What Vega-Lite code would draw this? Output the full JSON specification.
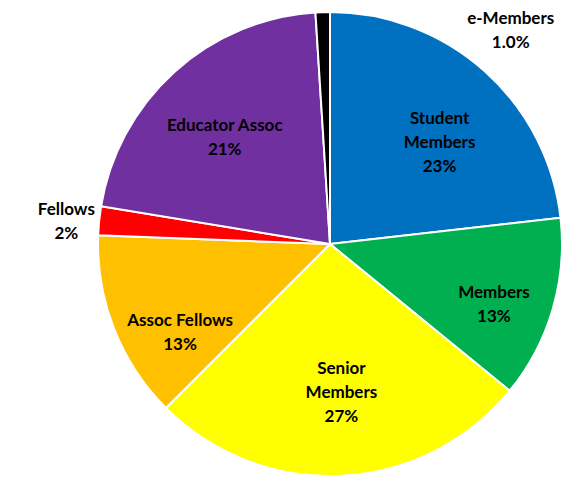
{
  "$schema": "https://vega.github.io/schema/vega-lite/v6.json",
  "width": 476,
  "height": 478,
  "autosize": {"type": "none"},
  "padding": {"left": 92, "right": 0, "top": 5, "bottom": 0},
  "background": "white",
  "config": {"view": {"stroke": null}},
  "data": {
    "values": [
      {"category": "Student Members", "pct": 23.2, "order": 1, "label": "Student\nMembers\n23%"},
      {"category": "Members", "pct": 12.7, "order": 2, "label": "Members\n13%"},
      {"category": "Senior Members", "pct": 26.6, "order": 3, "label": "Senior\nMembers\n27%"},
      {"category": "Assoc Fellows", "pct": 13.1, "order": 4, "label": "Assoc Fellows\n13%"},
      {"category": "Fellows", "pct": 2.0, "order": 5, "label": "Fellows\n2%"},
      {"category": "Educator Assoc", "pct": 21.4, "order": 6, "label": "Educator Assoc\n21%"},
      {"category": "e-Members", "pct": 1.0, "order": 7, "label": "e-Members\n1.0%"}
    ]
  },
  "transform": [
    {"stack": "pct", "groupby": [], "sort": [{"field": "order", "order": "ascending"}], "as": ["s", "e"]},
    {"calculate": "(datum.s + datum.e) / 2", "as": "mid"}
  ],
  "layer": [
    {
      "mark": {"type": "arc", "outerRadius": 232, "stroke": "white", "strokeWidth": 2},
      "encoding": {
        "theta": {"field": "s", "type": "quantitative", "stack": null, "scale": {"domain": [0, 100], "range": [0, 6.283185307179586]}},
        "theta2": {"field": "e"},
        "color": {
          "field": "category",
          "type": "nominal",
          "legend": null,
          "scale": {
            "domain": ["Student Members", "Members", "Senior Members", "Assoc Fellows", "Fellows", "Educator Assoc", "e-Members"],
            "range": ["#0070C0", "#00B050", "#FFFF00", "#FFC000", "#FF0000", "#7030A0", "#000000"]
          }
        }
      }
    },
    {
      "transform": [{"filter": "datum.category == 'Student Members'"}],
      "mark": {"type": "text", "radius": 142, "dx": 15, "dy": -19, "font": "Lato", "fontWeight": "bold", "fontSize": 17, "lineBreak": "\n", "lineHeight": 24, "baseline": "middle", "align": "center", "color": "black"},
      "encoding": {"theta": {"field": "mid", "type": "quantitative", "stack": null, "scale": {"domain": [0, 100], "range": [0, 6.283185307179586]}}, "text": {"field": "label"}}
    },
    {
      "transform": [{"filter": "datum.category == 'Members'"}],
      "mark": {"type": "text", "radius": 174, "dx": -3, "dy": 0, "font": "Lato", "fontWeight": "bold", "fontSize": 17, "lineBreak": "\n", "lineHeight": 24, "baseline": "middle", "align": "center", "color": "black"},
      "encoding": {"theta": {"field": "mid", "type": "quantitative", "stack": null, "scale": {"domain": [0, 100], "range": [0, 6.283185307179586]}}, "text": {"field": "label"}}
    },
    {
      "transform": [{"filter": "datum.category == 'Senior Members'"}],
      "mark": {"type": "text", "radius": 147, "dx": 4, "dy": -22, "font": "Lato", "fontWeight": "bold", "fontSize": 17, "lineBreak": "\n", "lineHeight": 24, "baseline": "middle", "align": "center", "color": "black"},
      "encoding": {"theta": {"field": "mid", "type": "quantitative", "stack": null, "scale": {"domain": [0, 100], "range": [0, 6.283185307179586]}}, "text": {"field": "label"}}
    },
    {
      "transform": [{"filter": "datum.category == 'Assoc Fellows'"}],
      "mark": {"type": "text", "radius": 175, "dx": 13, "dy": 13, "font": "Lato", "fontWeight": "bold", "fontSize": 17, "lineBreak": "\n", "lineHeight": 24, "baseline": "middle", "align": "center", "color": "black"},
      "encoding": {"theta": {"field": "mid", "type": "quantitative", "stack": null, "scale": {"domain": [0, 100], "range": [0, 6.283185307179586]}}, "text": {"field": "label"}}
    },
    {
      "transform": [{"filter": "datum.category == 'Fellows'"}],
      "mark": {"type": "text", "radius": 273, "dx": 8, "dy": -7, "font": "Lato", "fontWeight": "bold", "fontSize": 17, "lineBreak": "\n", "lineHeight": 24, "baseline": "middle", "align": "center", "color": "black"},
      "encoding": {"theta": {"field": "mid", "type": "quantitative", "stack": null, "scale": {"domain": [0, 100], "range": [0, 6.283185307179586]}}, "text": {"field": "label"}}
    },
    {
      "transform": [{"filter": "datum.category == 'Educator Assoc'"}],
      "mark": {"type": "text", "radius": 151, "dx": -4, "dy": -6, "font": "Lato", "fontWeight": "bold", "fontSize": 17, "lineBreak": "\n", "lineHeight": 24, "baseline": "middle", "align": "center", "color": "black"},
      "encoding": {"theta": {"field": "mid", "type": "quantitative", "stack": null, "scale": {"domain": [0, 100], "range": [0, 6.283185307179586]}}, "text": {"field": "label"}}
    },
    {
      "transform": [{"filter": "datum.category == 'e-Members'"}],
      "mark": {"type": "text", "radius": 232, "dx": 188, "dy": 7, "font": "Lato", "fontWeight": "bold", "fontSize": 17, "lineBreak": "\n", "lineHeight": 24, "baseline": "middle", "align": "center", "color": "black"},
      "encoding": {"theta": {"field": "mid", "type": "quantitative", "stack": null, "scale": {"domain": [0, 100], "range": [0, 6.283185307179586]}}, "text": {"field": "label"}}
    }
  ]
}
